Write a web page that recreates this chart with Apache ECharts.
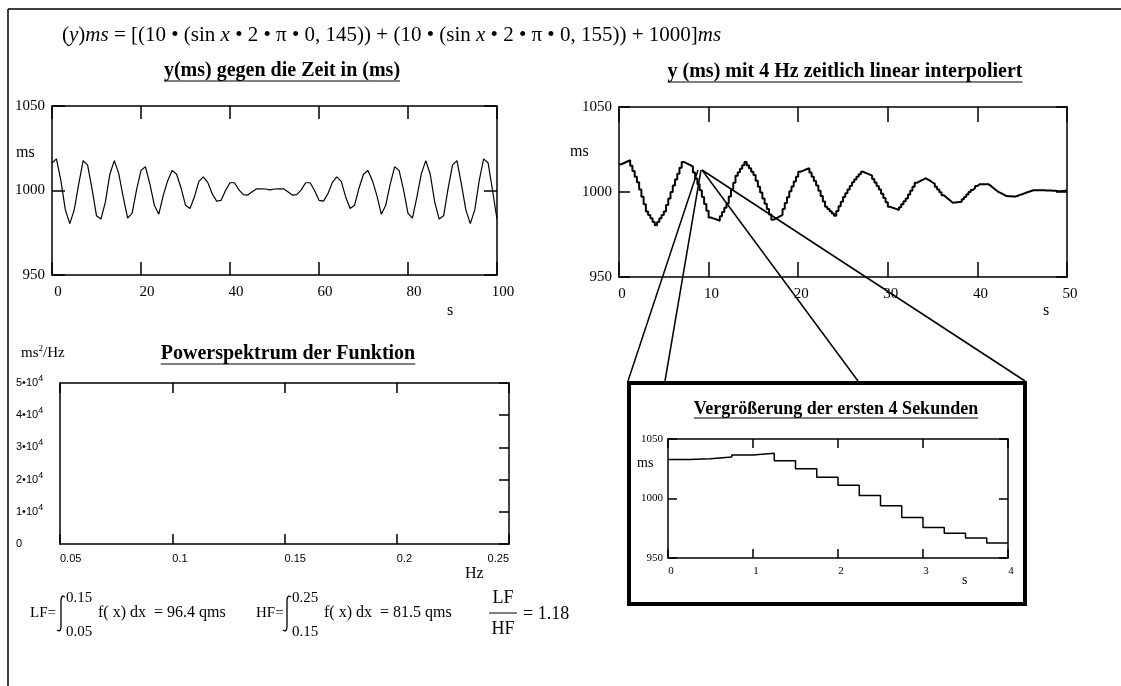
<!DOCTYPE html>
<html>
<head>
<meta charset="utf-8">
<title>Powerspektrum</title>
<script src="https://cdn.jsdelivr.net/npm/echarts/dist/echarts.min.js"></script>
<style>
  html, body { margin: 0; padding: 0; background: #fff; }
  #chart { width: 1121px; height: 686px; }
</style>
</head>
<body>
<div id="chart"></div>
<script>
// y(ms) sampled once per second, 0..100 s
const timeSeriesMs = [
  1016.3, 1018.7, 1005.8, 988.5, 980.4, 988.5, 1003.8, 1017.7, 1015.0, 1001.0,
  985.0, 983.1, 993.3, 1009.6, 1017.7, 1010.0, 996.2, 983.7, 986.5, 1000.4,
  1011.9, 1014.0, 1003.8, 991.3, 986.0, 997.1, 1005.8, 1011.9, 1009.6, 1001.5,
  991.3, 989.4, 996.2, 1005.4, 1008.1, 1004.8, 998.1, 993.7, 994.2, 1000.0,
  1004.6, 1004.6, 1000.4, 997.6, 997.3, 999.2, 1001.0, 1001.0, 1000.9, 1000.4,
  1000.9, 1001.0, 1001.0, 999.2, 997.3, 997.6, 1000.4, 1004.6, 1004.6, 1000.0,
  994.2, 993.7, 998.1, 1004.8, 1008.1, 1005.4, 996.2, 989.4, 991.3, 1001.5,
  1009.6, 1011.9, 1005.8, 997.1, 986.0, 991.3, 1003.8, 1014.0, 1011.9, 1000.4,
  986.5, 983.7, 996.2, 1010.0, 1017.7, 1009.6, 993.3, 983.1, 985.0, 1001.0,
  1015.0, 1017.7, 1003.8, 988.5, 980.4, 988.5, 1005.8, 1018.7, 1016.3, 1000.0,
  983.0
];

// 4 Hz steps, 0..50 s
const stepSeriesMs = [
  1016.3, 1016.9, 1017.5, 1018.1, 1018.7, 1015.5, 1012.3, 1009.0,
  1005.8, 1001.5, 997.2, 992.8, 988.5, 986.5, 984.5, 982.4,
  980.4, 982.4, 984.5, 986.5, 988.5, 992.3, 996.2, 1000.0,
  1003.8, 1007.3, 1010.8, 1014.2, 1017.7, 1017.0, 1016.4, 1015.7,
  1015.0, 1011.5, 1008.0, 1004.5, 1001.0, 997.0, 993.0, 989.0,
  985.0, 984.5, 984.1, 983.6, 983.1, 985.7, 988.2, 990.8,
  993.3, 997.4, 1001.5, 1005.5, 1009.6, 1011.6, 1013.7, 1015.7,
  1017.7, 1015.8, 1013.9, 1011.9, 1010.0, 1006.6, 1003.1, 999.7,
  996.2, 993.1, 990.0, 986.8, 983.7, 984.4, 985.1, 985.8,
  986.5, 990.0, 993.5, 996.9, 1000.4, 1003.3, 1006.2, 1009.0,
  1011.9, 1012.4, 1013.0, 1013.5, 1014.0, 1011.5, 1008.9, 1006.4,
  1003.8, 1000.7, 997.6, 994.4, 991.3, 990.0, 988.7, 987.3,
  986.0, 988.8, 991.6, 994.3, 997.1, 999.3, 1001.5, 1003.6,
  1005.8, 1007.3, 1008.9, 1010.4, 1011.9, 1011.3, 1010.8, 1010.2,
  1009.6, 1007.6, 1005.6, 1003.5, 1001.5, 999.0, 996.4, 993.9,
  991.3, 990.8, 990.4, 989.9, 989.4, 991.1, 992.8, 994.5,
  996.2, 998.5, 1000.8, 1003.1, 1005.4, 1006.1, 1006.8, 1007.4,
  1008.1, 1007.3, 1006.5, 1005.6, 1004.8, 1003.1, 1001.5, 999.8,
  998.1, 997.0, 995.9, 994.8, 993.7, 993.8, 994.0, 994.1,
  994.2, 995.7, 997.1, 998.6, 1000.0, 1001.2, 1002.3, 1003.5,
  1004.6, 1004.6, 1004.6, 1004.6, 1004.6, 1003.6, 1002.5, 1001.5,
  1000.4, 999.7, 999.0, 998.3, 997.6, 997.5, 997.5, 997.4,
  997.3, 997.8, 998.3, 998.7, 999.2, 999.7, 1000.1, 1000.6,
  1001.0, 1001.0, 1001.0, 1001.0, 1001.0, 1001.0, 1000.9, 1000.9,
  1000.9, 1000.8, 1000.7, 1000.5, 1000.4, 1000.6, 1000.7, 1000.9,
  1000.6
];

// zoom of the first 4 seconds, 0.25 s steps
const zoomSeriesMs = [
  1032.7, 1033.5, 1034.9, 1036.6, 1038.0, 1031.8, 1024.9, 1017.9,
  1011.2, 1002.5, 993.9, 984.1, 975.7, 970.7, 966.8, 962.6, 962.6
];

// power spectrum axes (no curve drawn)
const powerSpectrum = [];

const SERIF = '"Liberation Serif", "Times New Roman", serif';
const SANS = '"Liberation Sans", Arial, sans-serif';
const BLACK = '#000';

const chart = echarts.init(document.getElementById('chart'));

function lineStyle(w) {
  return { color: BLACK, width: w };
}

// one grid = bottom/top x axes + left/right y axes, ticks inside
function xAxes(grid, min, max, interval, tick, label) {
  const base = {
    type: 'value', gridIndex: grid, min: min, max: max, interval: interval,
    axisLine: { onZero: false, lineStyle: lineStyle(1.5) },
    splitLine: { show: false }
  };
  return [
    Object.assign({}, base, {
      position: 'bottom',
      axisTick: { show: tick > 0, inside: true, length: tick, lineStyle: lineStyle(1.5) },
      axisLabel: label
    }),
    Object.assign({}, base, {
      position: 'top',
      axisTick: { show: tick > 0, inside: true, length: tick, lineStyle: lineStyle(1.5) },
      axisLabel: { show: false }
    })
  ];
}

function yAxes(grid, min, max, interval, tickLeft, tickRight, label) {
  const base = {
    type: 'value', gridIndex: grid, min: min, max: max, interval: interval,
    axisLine: { onZero: false, lineStyle: lineStyle(1.5) },
    splitLine: { show: false }
  };
  return [
    Object.assign({}, base, {
      position: 'left',
      axisTick: { show: tickLeft > 0, inside: true, length: tickLeft, lineStyle: lineStyle(1.5) },
      axisLabel: label
    }),
    Object.assign({}, base, {
      position: 'right',
      axisTick: { show: tickRight > 0, inside: true, length: tickRight, lineStyle: lineStyle(1.5) },
      axisLabel: { show: false }
    })
  ];
}

const serifLabel = (size, extra) => Object.assign({
  color: BLACK, fontFamily: SERIF, fontSize: size,
  formatter: v => String(v)
}, extra || {});

const measure = document.createElement('canvas').getContext('2d');
function textWidth(text, font) {
  measure.font = font;
  return measure.measureText(text).width;
}

// bold underlined heading, centred on cx
function heading(text, cx, cy, size) {
  const w = textWidth(text, 'bold ' + size + 'px ' + SERIF);
  return [
    {
      type: 'text', x: cx, y: cy,
      style: { text: text, font: 'bold ' + size + 'px ' + SERIF, fill: BLACK, align: 'center', verticalAlign: 'middle' }
    },
    {
      type: 'line',
      shape: { x1: cx - w / 2, y1: cy + size * 0.5, x2: cx + w / 2, y2: cy + size * 0.5 },
      style: { stroke: BLACK, lineWidth: 1.2 }
    }
  ];
}

function plain(text, x, y, size, align) {
  return {
    type: 'text', x: x, y: y,
    style: { text: text, font: size + 'px ' + SERIF, fill: BLACK, align: align || 'left', verticalAlign: 'middle' }
  };
}

function integral(x, yTop, yBottom) {
  return {
    type: 'polyline',
    shape: {
      points: [
        [x + 4, yTop + 1], [x + 2, yTop], [x + 0.6, yTop + 1.2], [x, yTop + 4],
        [x, yBottom - 4], [x - 0.6, yBottom - 1.2], [x - 2, yBottom], [x - 4, yBottom - 1]
      ]
    },
    style: { stroke: BLACK, lineWidth: 1.3, fill: null }
  };
}

const formulaRich = {
  n: { fontFamily: SERIF, fontSize: 21, fill: BLACK },
  i: { fontFamily: SERIF, fontSize: 21, fontStyle: 'italic', fill: BLACK }
};

const graphics = [
  // page frame
  { type: 'line', shape: { x1: 8, y1: 9, x2: 1121, y2: 9 }, style: { stroke: BLACK, lineWidth: 1.5 } },
  { type: 'line', shape: { x1: 8, y1: 9, x2: 8, y2: 686 }, style: { stroke: BLACK, lineWidth: 1.5 } },
  {
    type: 'text', x: 62, y: 35,
    style: {
      text: '{n|(}{i|y}{n|)}{i|ms}{n| = [(10 • (sin }{i|x}{n| • 2 • π • 0, 145)) + (10 • (sin }{i|x}{n| • 2 • π • 0, 155)) + 1000]}{i|ms}',
      rich: formulaRich, verticalAlign: 'middle'
    }
  }
].concat(
  heading('y(ms) gegen die Zeit in (ms)', 282, 71, 20),
  heading('y (ms) mit 4 Hz zeitlich linear interpoliert', 845, 72, 20),
  heading('Powerspektrum der Funktion', 288, 354, 20),
  heading('Vergrößerung der ersten 4 Sekunden', 836, 409, 18),
  [
    plain('ms', 16, 153, 16),
    plain('s', 447, 311, 16),
    plain('ms', 570, 152, 16),
    plain('s', 1043, 311, 16),
    {
      type: 'text', x: 21, y: 353,
      style: {
        text: '{n|ms}{s|2}{n|/Hz}', verticalAlign: 'middle',
        rich: {
          n: { fontFamily: SERIF, fontSize: 15, fill: BLACK },
          s: { fontFamily: SERIF, fontSize: 9, fill: BLACK, padding: [0, 0, 9, 0] }
        }
      }
    },
    plain('Hz', 465, 574, 16),
    plain('ms', 637, 463, 14),
    plain('s', 962, 580, 14),

    // inset frame
    { type: 'rect', shape: { x: 629, y: 383, width: 396, height: 221 }, style: { stroke: BLACK, lineWidth: 4, fill: null } },
    // connector lines from the curve to the inset
    { type: 'line', shape: { x1: 698, y1: 170, x2: 628, y2: 381 }, style: { stroke: BLACK, lineWidth: 1.5 } },
    { type: 'line', shape: { x1: 701, y1: 170, x2: 665, y2: 381 }, style: { stroke: BLACK, lineWidth: 1.5 } },
    { type: 'line', shape: { x1: 702, y1: 170, x2: 858, y2: 381 }, style: { stroke: BLACK, lineWidth: 1.5 } },
    { type: 'line', shape: { x1: 702, y1: 170, x2: 1025, y2: 381 }, style: { stroke: BLACK, lineWidth: 1.5 } },

    // band powers
    plain('LF=', 30, 613, 15),
    integral(61, 596, 631),
    plain('0.15', 66, 598, 15),
    plain('0.05', 66, 632, 15),
    plain('f( x) dx  = 96.4 qms', 98, 613, 16),
    plain('HF=', 256, 613, 15),
    integral(287, 596, 631),
    plain('0.25', 292, 598, 15),
    plain('0.15', 292, 632, 15),
    plain('f( x) dx  = 81.5 qms', 324, 613, 16),
    plain('LF', 503, 598, 18, 'center'),
    { type: 'line', shape: { x1: 489, y1: 613, x2: 517, y2: 613 }, style: { stroke: BLACK, lineWidth: 1 } },
    plain('HF', 503, 629, 18, 'center'),
    plain('= 1.18', 523, 614, 18)
  ]
);

const powerRich = {
  b: { fontFamily: SANS, fontSize: 11, color: BLACK },
  sup: { fontFamily: SANS, fontSize: 9, color: BLACK, padding: [0, 0, 9, 0] }
};

const option = {
  animation: false,
  backgroundColor: '#fff',
  grid: [
    { left: 52, top: 106, width: 445, height: 169, outerBoundsMode: 'none' },
    { left: 619, top: 107, width: 448, height: 170, outerBoundsMode: 'none' },
    { left: 60, top: 383, width: 449, height: 161, outerBoundsMode: 'none' },
    { left: 668, top: 439, width: 340, height: 119, outerBoundsMode: 'none' }
  ],
  xAxis: [].concat(
    xAxes(0, 0, 100, 20, 13, serifLabel(15, { margin: 10, padding: [0, 0, 0, 12] })),
    xAxes(1, 0, 50, 10, 15, serifLabel(15, { margin: 10, padding: [0, 0, 0, 6] })),
    xAxes(2, 0.05, 0.25, 0.05, 10, {
      color: BLACK, fontFamily: SANS, fontSize: 11, margin: 9, align: 'left',
      alignMaxLabel: 'right',
      formatter: v => String(+v.toFixed(2))
    }),
    xAxes(3, 0, 4, 1, 9, serifLabel(11, { margin: 8, padding: [0, 0, 0, 6] }))
  ),
  yAxis: [].concat(
    yAxes(0, 950, 1050, 50, 13, 13, serifLabel(15, { margin: 7 })),
    yAxes(1, 950, 1050, 50, 11, 11, serifLabel(15, { margin: 7 })),
    yAxes(2, 0, 50000, 10000, 0, 10, {
      margin: 44, align: 'left', rich: powerRich,
      formatter: v => v === 0 ? '{b|0}' : '{b|' + (v / 10000) + '•10}{sup|4}'
    }),
    yAxes(3, 950, 1050, 50, 9, 9, serifLabel(11, { margin: 5 }))
  ),
  series: [
    {
      type: 'line', xAxisIndex: 0, yAxisIndex: 0, symbol: 'none', silent: true,
      lineStyle: { color: BLACK, width: 1.2 },
      data: timeSeriesMs.map((v, i) => [i, v])
    },
    {
      type: 'line', xAxisIndex: 2, yAxisIndex: 2, symbol: 'none', silent: true, step: 'end',
      lineStyle: { color: BLACK, width: 2 },
      data: stepSeriesMs.map((v, i) => [i * 0.25, v])
    },
    {
      type: 'line', xAxisIndex: 4, yAxisIndex: 4, symbol: 'none', silent: true,
      lineStyle: { color: BLACK, width: 1.2 },
      data: powerSpectrum
    },
    {
      type: 'line', xAxisIndex: 6, yAxisIndex: 6, symbol: 'none', silent: true, step: 'end',
      lineStyle: { color: BLACK, width: 1.5 },
      data: zoomSeriesMs.map((v, i) => [i * 0.25, v])
    }
  ],
  graphic: graphics
};

chart.setOption(option);
</script>
</body>
</html>
